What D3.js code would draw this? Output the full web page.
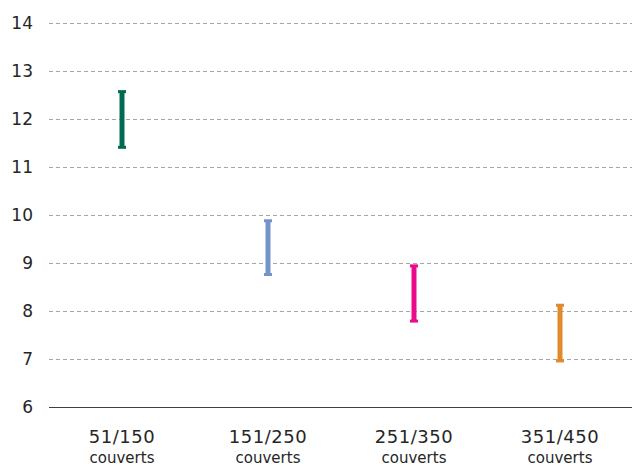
<!DOCTYPE html>
<html>
<head>
<meta charset="utf-8">
<script src="https://cdn.jsdelivr.net/npm/d3@7"></script>
<style>
  body { margin: 0; background: #fff; }
  text { font-family: "DejaVu Sans", sans-serif; fill: #262626; }
</style>
</head>
<body>
<div id="chart"></div>
<script>
/**
 * CONSTANTS AND DATA
 * */
const width = 634,
  height = 466,
  margin = { top: 23, bottom: 59, left: 49, right: 1 };

const categories = ["51/150", "151/250", "251/350", "351/450"];
const lowValues = [11.41, 8.76, 7.79, 6.96];
const highValues = [12.57, 9.88, 8.94, 8.12];
const colors = ["#006a53", "#7394c8", "#ec0a8c", "#df8a2b"];
const yTicks = [6, 7, 8, 9, 10, 11, 12, 13, 14];

const rows = categories.map((c, i) => ({
  cat: c, low: lowValues[i], high: highValues[i], color: colors[i]
}));

const svg = d3.select("#chart")
  .append("svg")
  .attr("width", width)
  .attr("height", height);

// SCALES
const xScale = d3.scaleBand()
  .domain(categories)
  .range([margin.left, width - margin.right]);

const yScale = d3.scaleLinear()
  .domain([6, 14])
  .range([height - margin.bottom, margin.top]);

// gridlines
svg.append("g")
  .selectAll("line")
  .data(yTicks.filter(d => d > 6))
  .join("line")
  .attr("x1", margin.left)
  .attr("x2", width - margin.right - 1)
  .attr("y1", d => yScale(d) + 0.5)
  .attr("y2", d => yScale(d) + 0.5)
  .attr("stroke", "#a6a6a6")
  .attr("stroke-width", 1)
  .attr("stroke-dasharray", "4,3");

// y axis labels
svg.append("g")
  .selectAll("text")
  .data(yTicks)
  .join("text")
  .attr("x", 33)
  .attr("y", d => yScale(d))
  .attr("dy", "0.35em")
  .attr("text-anchor", "end")
  .style("font-size", "17px")
  .text(d => d);

// x axis baseline
svg.append("line")
  .attr("x1", margin.left)
  .attr("x2", width - margin.right - 1)
  .attr("y1", yScale(6) + 0.5)
  .attr("y2", yScale(6) + 0.5)
  .attr("stroke", "#404040")
  .attr("stroke-width", 1);

// x labels
const xLab = svg.append("g")
  .selectAll("g")
  .data(categories)
  .join("g")
  .attr("transform", d => `translate(${xScale(d) + xScale.bandwidth() / 2},0)`);

xLab.append("text")
  .attr("y", 443)
  .attr("text-anchor", "middle")
  .style("font-size", "18px")
  .style("letter-spacing", "0.5px")
  .text(d => d);

xLab.append("text")
  .attr("y", 463)
  .attr("text-anchor", "middle")
  .style("font-size", "15px")
  .text("couverts");

// range bars
const bars = svg.append("g")
  .selectAll("g")
  .data(rows)
  .join("g");

bars.append("line")
  .attr("x1", d => xScale(d.cat) + xScale.bandwidth() / 2)
  .attr("x2", d => xScale(d.cat) + xScale.bandwidth() / 2)
  .attr("y1", d => yScale(d.high))
  .attr("y2", d => yScale(d.low))
  .attr("stroke", d => d.color)
  .attr("stroke-width", 5);

bars.selectAll("line.cap")
  .data(d => [{ v: d.high, c: d }, { v: d.low, c: d }])
  .join("line")
  .attr("class", "cap")
  .attr("x1", d => xScale(d.c.cat) + xScale.bandwidth() / 2 - 4)
  .attr("x2", d => xScale(d.c.cat) + xScale.bandwidth() / 2 + 4)
  .attr("y1", d => yScale(d.v))
  .attr("y2", d => yScale(d.v))
  .attr("stroke", d => d.c.color)
  .attr("stroke-width", 3);
</script>
</body>
</html>
